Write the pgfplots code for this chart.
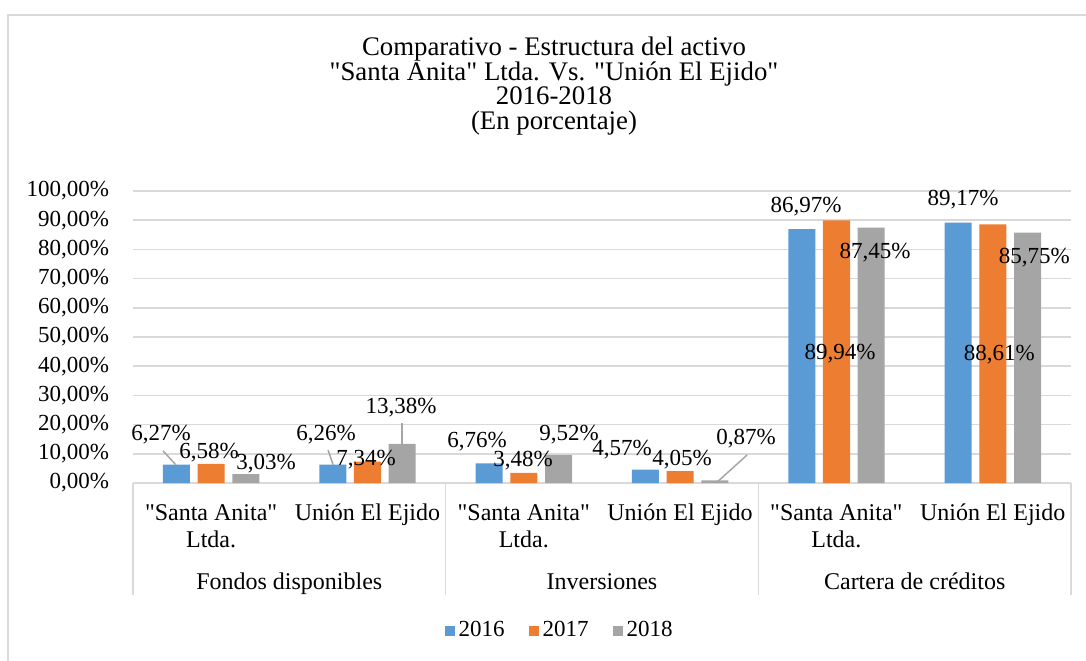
\documentclass[border=0pt]{standalone}
\usepackage{fontspec}
\setmainfont{Liberation Serif}[Ligatures=TeXOff]
\usepackage{pgfplots}
\pgfplotsset{compat=1.18}
\definecolor{cA}{HTML}{5B9BD5}
\definecolor{cB}{HTML}{ED7D31}
\definecolor{cC}{HTML}{A5A5A5}
\definecolor{gridc}{HTML}{D9D9D9}
\definecolor{leadc}{HTML}{A6A6A6}

\begin{document}
\fontsize{11.5}{13.5}\selectfont
\begin{tikzpicture}
% page frame in pixel units (1px = 0.5pt, y down)
\begin{scope}[x=0.5pt,y=-0.5pt]
\useasboundingbox (0,0) rectangle (1086,660);
\draw[gridc, line width=0.9pt] (8,700) -- (8,15) -- (1100,15);
% title
\begin{scope}[every node/.style={anchor=base, font=\fontsize{13.4}{15}\selectfont}]
\node at (554,55) {Comparativo - Estructura del activo};
\node at (554,80) {"Santa Anita" Ltda. Vs. "Unión El Ejido"};
\node at (554,104) {2016-2018};
\node at (554,129) {(En porcentaje)};
\end{scope}
% category axis
\foreach \xx in {133,445.7,758.3,1071} \draw[gridc, line width=0.75pt] (\xx,483) -- (\xx,595);
\begin{scope}[every node/.style={anchor=base, font=\fontsize{12}{14}\selectfont}]
\foreach \g in {0,1,2} {
  \pgfmathsetmacro{\ca}{133+(2*\g+0.5)*156.3}
  \pgfmathsetmacro{\cb}{133+(2*\g+1.5)*156.3}
  \node at (\ca,520) {"Santa Anita"};
  \node at (\ca,547) {Ltda.};
  \node at (\cb,520) {Unión El Ejido};
}
\node at (289.3,589) {Fondos disponibles};
\node at (602,589) {Inversiones};
\node at (914.7,589) {Cartera de créditos};
\end{scope}
\end{scope}

\begin{axis}[
  at={(66.5pt,-241.5pt)}, anchor=south west,
  scale only axis, width=469pt, height=146pt,
  xmin=-0.5, xmax=5.5, ymin=0, ymax=100,
  ytick={0,10,...,100}, xtick=\empty,
  ymajorgrids, grid style={gridc, line width=0.75pt},
  axis line style={draw=none}, major tick length=0,
  /pgf/number format/assume math mode=true,
  yticklabel={\pgfmathprintnumber[fixed,fixed zerofill,precision=2,use comma]{\tick}\%},
  yticklabel style={xshift=-8pt},
  clip=false,
  legend style={at={(0.456,-0.507)}, anchor=center, draw=none, fill=none,
    legend columns=3, /tikz/every even column/.append style={column sep=10pt},
    inner sep=0pt},
  legend cell align=left,
  legend image code/.code={\fill[#1] (0pt,-2.5pt) rectangle (5pt,2.5pt);},
  every node/.append style={font=\fontsize{10}{12}\selectfont},
]
\addplot[ybar, fill=cA, draw=none, bar width=0.173, bar shift=-0.222]
  coordinates {(0,6.27) (1,6.26) (2,6.76) (3,4.57) (4,86.97) (5,89.17)};
\addplot[ybar, fill=cB, draw=none, bar width=0.173, bar shift=0]
  coordinates {(0,6.58) (1,7.34) (2,3.48) (3,4.05) (4,89.94) (5,88.61)};
\addplot[ybar, fill=cC, draw=none, bar width=0.173, bar shift=0.222]
  coordinates {(0,3.03) (1,13.38) (2,9.52) (3,0.87) (4,87.45) (5,85.75)};
\legend{2016,2017,2018}
% leader lines
\draw[leadc, line width=0.75pt] (axis cs:-0.308,11.0) -- (axis cs:-0.225,6.2);
\draw[leadc, line width=0.75pt] (axis cs:0.748,11.3) -- (axis cs:0.780,6.2);
\draw[leadc, line width=0.75pt] (axis cs:1.221,20.6) -- (axis cs:1.221,13.4);
\draw[leadc, line width=0.75pt] (axis cs:3.428,9.6) -- (axis cs:3.236,0.3);
% data labels
\node at (axis cs:-0.321,16.5) {6,27\%};
\node at (axis cs:-0.014,10.3) {6,58\%};
\node at (axis cs:0.351,6.5) {3,03\%};
\node at (axis cs:0.735,16.5) {6,26\%};
\node at (axis cs:0.991,7.9) {7,34\%};
\node at (axis cs:1.215,25.8) {13,38\%};
\node at (axis cs:1.701,14.1) {6,76\%};
\node at (axis cs:1.995,7.6) {3,48\%};
\node at (axis cs:2.290,16.5) {9,52\%};
\node at (axis cs:2.629,11.3) {4,57\%};
\node at (axis cs:3.012,7.9) {4,05\%};
\node at (axis cs:3.422,15.1) {0,87\%};
\node at (axis cs:3.806,94.8) {86,97\%};
\node at (axis cs:4.023,44.3) {89,94\%};
\node at (axis cs:4.247,79.0) {87,45\%};
\node at (axis cs:4.810,96.9) {89,17\%};
\node at (axis cs:5.041,44.0) {88,61\%};
\node at (axis cs:5.265,77.3) {85,75\%};
\end{axis}
\end{tikzpicture}
\end{document}
